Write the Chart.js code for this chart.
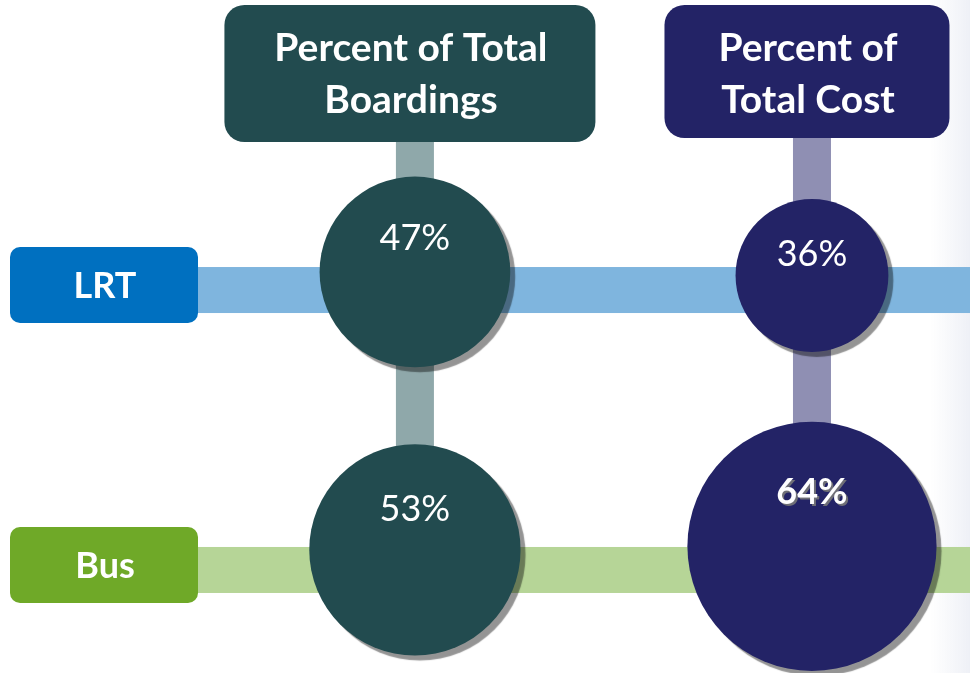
<!DOCTYPE html>
<html>
<head>
<meta charset="utf-8">
<title>Boardings vs Cost</title>
<script src="https://cdn.jsdelivr.net/npm/chart.js@4/dist/chart.umd.min.js"></script>
<style>
    html, body { margin: 0; padding: 0; background: #ffffff; }
    #wrap { width: 970px; height: 673px; position: relative; }
</style>
</head>
<body>
<div id="wrap"><canvas id="chart"></canvas></div>
<script>
// Chart data
const columns = ['Percent of Total Boardings', 'Percent of Total Cost'];
const headerLines = [['Percent of Total', 'Boardings'], ['Percent of', 'Total Cost']];
const modes = ['LRT', 'Bus'];
const boardings = [47, 53];   // LRT, Bus
const cost = [36, 64];        // LRT, Bus

// Styling
const FONT = 'Lato, "Open Sans", sans-serif';
const circleColors = ['#224b4f', '#232366'];
const stemColors = ['#8fa8aa', '#8f8fb3'];
const headerColors = ['#224b4f', '#232366'];
const modeColors = ['#0070c0', '#6fa928'];
const bandColors = ['#7fb5de', '#b6d597'];
const radiusBase = 14.5, radiusPerPoint = 1.72;
const liftPerRadius = 0.19 / 280;   // bigger bubbles ride a little higher above the band
const boldLabel = [[false, false], [false, true]];

// LRT on the upper row (y = 1), Bus on the lower row (y = 0)
const rowValue = i => modes.length - 1 - i;

function roundRect(ctx, x, y, w, h, r) {
    ctx.beginPath();
    ctx.moveTo(x + r, y);
    ctx.arcTo(x + w, y, x + w, y + h, r);
    ctx.arcTo(x + w, y + h, x, y + h, r);
    ctx.arcTo(x, y + h, x, y, r);
    ctx.arcTo(x, y, x + w, y, r);
    ctx.closePath();
}

const series = [boardings, cost];

const datasets = series.map((values, c) => ({
    label: columns[c],
    data: values.map((v, i) => {
        const r = radiusBase + v * radiusPerPoint;
        return { x: c, y: rowValue(i) + r * liftPerRadius, r: r, v: v };
    }),
    backgroundColor: circleColors[c],
    borderWidth: 0,
    clip: false
}));

// Draw the header boxes, row labels and connecting bands behind the bubbles
const backdrop = {
    id: 'backdrop',
    beforeDraw(chart) {
        const ctx = chart.ctx;
        const w = chart.width;
        ctx.save();
        const g = ctx.createLinearGradient(w - 40, 0, w, 0);
        g.addColorStop(0, 'rgba(240,242,247,0)');
        g.addColorStop(1, 'rgba(238,240,246,1)');
        ctx.fillStyle = g;
        ctx.fillRect(w - 40, 0, 40, chart.height);
        ctx.restore();
    },
    beforeDatasetsDraw(chart) {
        const ctx = chart.ctx;
        const xs = chart.scales.x, ys = chart.scales.y;
        const labelLeft = 10, labelW = 188, labelH = 76, bandH = 46;
        ctx.save();

        // horizontal bands + mode labels
        modes.forEach((m, i) => {
            const cy = ys.getPixelForValue(rowValue(i));
            ctx.fillStyle = bandColors[i];
            ctx.fillRect(labelLeft + labelW - 4, cy - bandH / 2, chart.width, bandH);
            const ly = cy - 5;
            ctx.fillStyle = modeColors[i];
            roundRect(ctx, labelLeft, ly - labelH / 2, labelW, labelH, 10);
            ctx.fill();
            ctx.fillStyle = '#ffffff';
            ctx.font = 'bold 36px ' + FONT;
            ctx.textAlign = 'center';
            ctx.textBaseline = 'middle';
            ctx.fillText(m, labelLeft + labelW / 2 + 1, ly + 1);
        });

        // vertical stems + header boxes
        const boxes = [{ w: 371, h: 137 }, { w: 285, h: 133 }];
        columns.forEach((col, c) => {
            const cx = xs.getPixelForValue(c);
            const bottom = ys.getPixelForValue(0);
            const top = 5;
            ctx.fillStyle = stemColors[c];
            ctx.fillRect(cx - 19, top + 100, 38, bottom - top - 100);
            ctx.fillStyle = headerColors[c];
            const bx = cx - 5 - boxes[c].w / 2;
            roundRect(ctx, bx, top, boxes[c].w, boxes[c].h, 20);
            ctx.fill();
            ctx.fillStyle = '#ffffff';
            ctx.font = 'bold 39px ' + FONT;
            ctx.textAlign = 'center';
            ctx.textBaseline = 'middle';
            headerLines[c].forEach((line, k) => {
                ctx.fillText(line, cx - 4, top + 43 + k * 52);
            });
        });
        ctx.restore();
    },
    beforeDatasetDraw(chart) {
        const ctx = chart.ctx;
        ctx.save();
        ctx.shadowColor = 'rgba(0,0,0,0.42)';
        ctx.shadowOffsetX = 5;
        ctx.shadowOffsetY = 5;
        ctx.shadowBlur = 1;
    },
    afterDatasetDraw(chart) {
        chart.ctx.restore();
    },
    afterDatasetsDraw(chart) {
        const ctx = chart.ctx;
        ctx.save();
        ctx.textAlign = 'center';
        ctx.textBaseline = 'middle';
        chart.data.datasets.forEach((ds, c) => {
            const meta = chart.getDatasetMeta(c);
            meta.data.forEach((el, i) => {
                const v = ds.data[i].v;
                const r = ds.data[i].r;
                const ty = el.y - (0.69 * r - 32);
                if (boldLabel[c][i]) {
                    ctx.font = 'bold 36px ' + FONT;
                    ctx.fillStyle = 'rgba(120,120,120,0.9)';
                    ctx.fillText(v + '%', el.x + 2, ty + 2);
                } else {
                    ctx.font = '36px ' + FONT;
                }
                ctx.fillStyle = '#ffffff';
                ctx.fillText(v + '%', el.x, ty);
            });
        });
        ctx.restore();
    }
};

new Chart(document.getElementById('chart'), {
    type: 'bubble',
    data: { datasets: datasets },
    options: {
        responsive: true,
        maintainAspectRatio: false,
        animation: false,
        events: [],
        layout: { padding: 0, autoPadding: false },
        scales: {
            x: { type: 'linear', display: false, min: -1.045, max: 1.398 },
            y: { type: 'linear', display: false, min: -0.368, max: 2.036 }
        },
        plugins: {
            legend: { display: false },
            tooltip: { enabled: false }
        }
    },
    plugins: [backdrop]
});
</script>
</body>
</html>
